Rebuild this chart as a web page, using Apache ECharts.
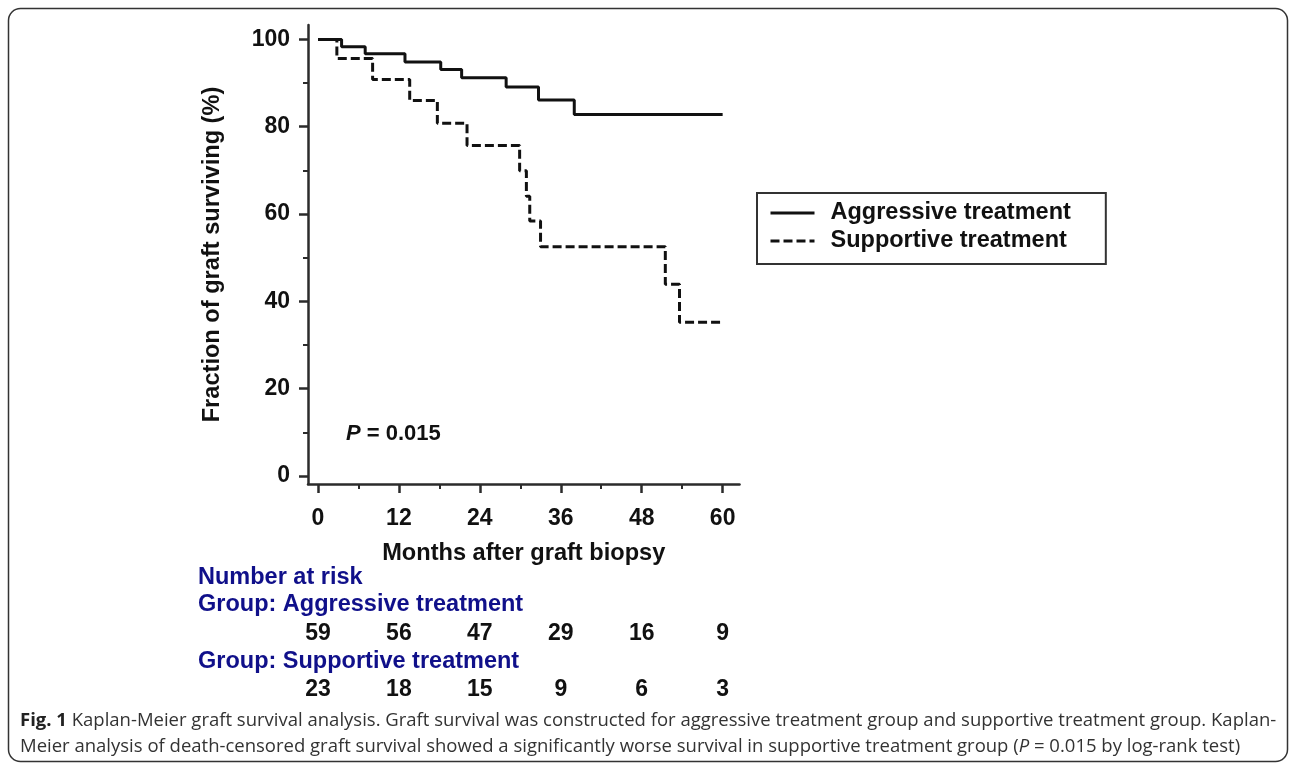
<!DOCTYPE html>
<html>
<head>
<meta charset="utf-8">
<script src="https://cdn.jsdelivr.net/npm/echarts@6/dist/echarts.min.js"></script>
<style>
html,body{margin:0;padding:0;background:#fff;}
#chart{width:1295px;height:770px;}
</style>
</head>
<body>
<div id="chart"></div>
<script>
// ---- data ----
var aggressiveMonths = [0, 3.5, 7.0, 12.9, 18.2, 21.3, 27.9, 32.7, 38.0, 60];
var aggressiveSurvival = [100, 98.3, 96.7, 94.8, 93.1, 91.2, 89.1, 86.1, 82.8, 82.8];
var supportiveMonths = [0, 2.8, 8.1, 13.6, 17.7, 22.1, 29.9, 30.9, 31.4, 33.0, 51.5, 53.6, 60];
var supportiveSurvival = [100, 95.6, 90.8, 86.0, 80.8, 75.7, 69.9, 64.1, 58.4, 52.5, 43.9, 35.2, 35.2];
var xMajorTicks = [0, 12, 24, 36, 48, 60];
var xMinorTicks = [6, 18, 30, 42, 54];
var yMajorTicks = [0, 20, 40, 60, 80, 100];
var yMinorTicks = [10, 30, 50, 70, 90];
var riskAggressive = [59, 56, 47, 29, 16, 9];
var riskSupportive = [23, 18, 15, 9, 6, 3];
var seriesNames = ['Aggressive treatment', 'Supportive treatment'];
var pText = '0.015';

function pairs(xs, ys) { return xs.map(function (x, i) { return [x, ys[i]]; }); }

var FONT = 'Liberation Sans, Arial, sans-serif';
var AX = '#2b2b2b';
var NAVY = '#10108a';

var chart = echarts.init(document.getElementById('chart'), null, {renderer: 'canvas'});

var baseX = {
  type: 'value', min: -1.48, max: 62.5, gridIndex: 0,
  splitLine: {show: false}, position: 'bottom'
};
var baseY = {
  type: 'value', min: -1.83, max: 103.3, gridIndex: 0,
  splitLine: {show: false}, position: 'left'
};

var option = {
  backgroundColor: '#fff',
  animation: false,
  grid: {left: 308, top: 25, width: 431.5, height: 459, containLabel: false},
  xAxis: [
    Object.assign({}, baseX, {
      name: 'Months after graft biopsy', nameLocation: 'middle', nameGap: 57,
      nameTextStyle: {fontFamily: FONT, fontWeight: 'bold', fontSize: 23.6, color: '#111'},
      axisLine: {show: true, onZero: false, lineStyle: {color: AX, width: 2.5}},
      axisTick: {show: true, customValues: xMajorTicks, length: 9, inside: false, lineStyle: {color: AX, width: 2.5}},
      axisLabel: {show: true, customValues: xMajorTicks, margin: 23,
        fontFamily: FONT, fontWeight: 'bold', fontSize: 23, color: '#111'}
    }),
    Object.assign({}, baseX, {
      axisLine: {show: false, onZero: false},
      axisTick: {show: true, customValues: xMinorTicks, length: 5, lineStyle: {color: AX, width: 2}},
      axisLabel: {show: false}
    }),
    Object.assign({}, baseX, {
      offset: 118,
      axisLine: {show: false, onZero: false}, axisTick: {show: false},
      axisLabel: {show: true, customValues: xMajorTicks, margin: 20,
        fontFamily: FONT, fontWeight: 'bold', fontSize: 23, color: '#111',
        formatter: function (v) { return String(riskAggressive[xMajorTicks.indexOf(v)]); }}
    }),
    Object.assign({}, baseX, {
      offset: 174,
      axisLine: {show: false, onZero: false}, axisTick: {show: false},
      axisLabel: {show: true, customValues: xMajorTicks, margin: 20,
        fontFamily: FONT, fontWeight: 'bold', fontSize: 23, color: '#111',
        formatter: function (v) { return String(riskSupportive[xMajorTicks.indexOf(v)]); }}
    })
  ],
  yAxis: [
    Object.assign({}, baseY, {
      name: 'Fraction of graft surviving (%)', nameLocation: 'middle', nameGap: 84,
      nameTextStyle: {fontFamily: FONT, fontWeight: 'bold', fontSize: 23.6, color: '#111'},
      axisLine: {show: true, onZero: false, lineStyle: {color: AX, width: 2.5}},
      axisTick: {show: true, customValues: yMajorTicks, length: 9, lineStyle: {color: AX, width: 2.5}},
      axisLabel: {show: true, customValues: yMajorTicks, margin: 18,
        fontFamily: FONT, fontWeight: 'bold', fontSize: 23, color: '#111'}
    }),
    Object.assign({}, baseY, {
      axisLine: {show: false, onZero: false},
      axisTick: {show: true, customValues: yMinorTicks, length: 5, lineStyle: {color: AX, width: 2}},
      axisLabel: {show: false}
    })
  ],
  legend: {
    orient: 'vertical', left: 757, top: 193,
    padding: [6, 35, 9, 12],
    itemGap: 0, itemWidth: 44, itemHeight: 14,
    borderColor: '#333', borderWidth: 2,
    itemStyle: {opacity: 0, borderWidth: 0},
    lineStyle: {width: 3, color: '#111'},
    textStyle: {fontFamily: FONT, fontWeight: 'bold', fontSize: 23.5, color: '#111', lineHeight: 28, padding: [0, 0, 0, 11]},
    data: seriesNames
  },
  title: [
    {
      text: '{i|P} = ' + pText, left: 341, top: 418,
      textStyle: {fontFamily: FONT, fontWeight: 'bold', fontSize: 22, color: '#111',
        rich: {i: {fontFamily: FONT, fontWeight: 'bold', fontStyle: 'italic', fontSize: 22, color: '#111'}}}
    }
  ],
  graphic: [
    {type: 'rect', shape: {x: 8.5, y: 8.5, width: 1279, height: 753, r: 12},
      style: {fill: 'none', stroke: '#333', lineWidth: 1.5}, silent: true},
    {type: 'text', left: 198, top: 566, style: {text: 'Number at risk', fill: NAVY, font: 'bold 23.5px ' + FONT}},
    {type: 'text', left: 198, top: 593, style: {text: 'Group: Aggressive treatment', fill: NAVY, font: 'bold 23.5px ' + FONT}},
    {type: 'text', left: 198, top: 650, style: {text: 'Group: Supportive treatment', fill: NAVY, font: 'bold 23.5px ' + FONT}},
    {type: 'text', left: 20, top: 711, style: {
      text: '{b|Fig. 1} Kaplan-Meier graft survival analysis. Graft survival was constructed for aggressive treatment group and supportive treatment group. Kaplan-',
      font: '18.5px Open Sans', fill: '#333',
      rich: {b: {fontFamily: 'Open Sans', fontWeight: 'bold', fontSize: 18.5, fill: '#222'}}}},
    {type: 'text', left: 20, top: 737, style: {
      text: 'Meier analysis of death-censored graft survival showed a significantly worse survival in supportive treatment group ({i|P} = ' + pText + ' by log-rank test)',
      font: '18.5px Open Sans', fill: '#333',
      rich: {i: {fontFamily: 'Open Sans', fontStyle: 'italic', fontSize: 18.5, fill: '#333'}}}}
  ],
  series: [
    {
      name: seriesNames[0], type: 'line', step: 'end', xAxisIndex: 0, yAxisIndex: 0,
      data: pairs(aggressiveMonths, aggressiveSurvival),
      showSymbol: false, symbol: 'none', color: '#111',
      lineStyle: {color: '#111', width: 3, type: 'solid'}
    },
    {
      name: seriesNames[1], type: 'line', step: 'end', xAxisIndex: 0, yAxisIndex: 0,
      data: pairs(supportiveMonths, supportiveSurvival),
      showSymbol: false, symbol: 'none', color: '#111',
      lineStyle: {color: '#111', width: 3, type: [9, 4]}
    }
  ]
};
chart.setOption(option);
</script>
</body>
</html>
